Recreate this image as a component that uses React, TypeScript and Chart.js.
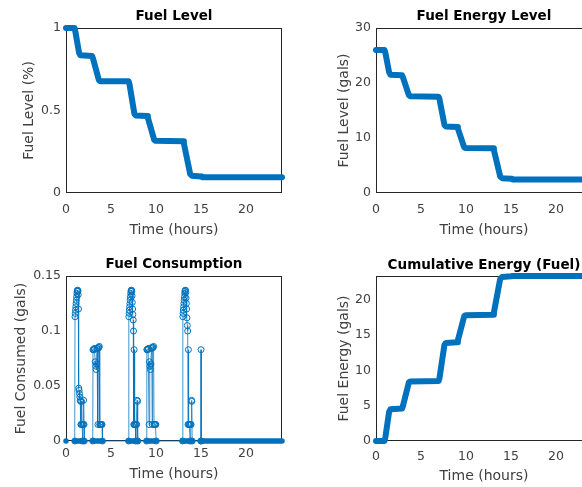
import { useEffect, useRef } from "react";
import { Chart, registerables } from "chart.js";

Chart.register(...registerables);

// ---------- data ----------
const stepTimes = [0, 0.95, 1.05, 1.45, 1.6, 2.9, 3.0, 3.65, 3.8, 6.95, 7.05, 7.6, 7.75, 9.0, 9.1, 9.8, 9.95, 13.0, 13.1, 13.8, 14.0, 15.0, 15.1, 24];
const fuelFraction = [1.0, 1.0, 0.975, 0.85, 0.835, 0.83, 0.815, 0.685, 0.678, 0.678, 0.66, 0.48, 0.47, 0.467, 0.455, 0.322, 0.316, 0.314, 0.3, 0.115, 0.105, 0.1, 0.097, 0.096];
const fuelGallons = [26.0, 26.0, 25.4, 22.0, 21.5, 21.4, 21.0, 17.8, 17.6, 17.5, 17.1, 12.4, 12.1, 12.0, 11.7, 8.3, 8.2, 8.15, 7.8, 3.0, 2.7, 2.6, 2.5, 2.45];
const cumulativeFuel = [0, 0, 0.6, 4.1, 4.5, 4.6, 5.0, 8.3, 8.45, 8.5, 8.9, 13.6, 13.9, 14.0, 14.3, 17.7, 17.85, 17.9, 18.2, 23.0, 23.25, 23.35, 23.4, 23.4];

const consTimes = [
  0.97, 1.0, 1.03, 1.06, 1.09, 1.12, 1.15, 1.18, 1.21, 1.24, 1.27, 1.3, 1.33, 1.36, 1.39, 1.42, 1.46, 1.5, 1.54, 1.58, 1.62, 1.66, 1.7, 1.74, 1.78, 1.84, 1.88, 1.92, 1.96, 2.0, 2.03,
  2.97, 3.0, 3.05, 3.1, 3.15, 3.2, 3.25, 3.3, 3.35, 3.4, 3.45, 3.5, 3.55, 3.6, 3.65, 3.7, 3.75, 3.8, 3.85, 3.9, 3.95, 4.0, 4.05,
  6.95, 6.98, 7.01, 7.04, 7.07, 7.1, 7.13, 7.16, 7.19, 7.22, 7.25, 7.28, 7.31, 7.34, 7.37, 7.4, 7.43, 7.47, 7.5, 7.53, 7.57, 7.6, 7.65, 7.7, 7.75, 7.8, 7.85, 7.9, 7.95, 7.98,
  8.95, 8.98, 9.03, 9.08, 9.13, 9.18, 9.23, 9.28, 9.33, 9.38, 9.43, 9.48, 9.53, 9.58, 9.63, 9.68, 9.73, 9.78, 9.83, 9.88, 9.93, 9.98, 10.03,
  12.95, 12.98, 13.01, 13.04, 13.07, 13.1, 13.13, 13.16, 13.19, 13.22, 13.25, 13.28, 13.31, 13.34, 13.37, 13.4, 13.44, 13.48, 13.52, 13.56, 13.6, 13.64, 13.68, 13.72, 13.76, 13.8, 13.85, 13.9, 13.95, 13.98, 14.02,
  14.97, 15.0, 15.03,
];
const consValues = [
  0, 0.113, 0.116, 0.119, 0.122, 0.125, 0.128, 0.131, 0.134, 0.136, 0.137, 0.137, 0.136, 0.133, 0.12, 0.048, 0.046, 0.043, 0.04, 0.037, 0.036, 0.015, 0.015, 0.036, 0.015, 0, 0.015, 0.015, 0.037, 0.015, 0,
  0, 0.083, 0.083, 0.083, 0.084, 0.084, 0.072, 0.068, 0.065, 0.07, 0.084, 0.084, 0.015, 0.085, 0.085, 0.086, 0.015, 0.015, 0.015, 0.015, 0.015, 0.015, 0,
  0, 0.113, 0.116, 0.119, 0.122, 0.125, 0.128, 0.131, 0.134, 0.136, 0.137, 0.137, 0.136, 0.132, 0.126, 0.12, 0.115, 0.11, 0.1, 0.015, 0.083, 0.015, 0.015, 0.015, 0, 0.015, 0.015, 0.037, 0.036, 0,
  0, 0.083, 0.083, 0.083, 0.084, 0.084, 0.015, 0.072, 0.068, 0.065, 0.07, 0.084, 0.085, 0.015, 0.085, 0.085, 0.086, 0.015, 0.015, 0.015, 0.015, 0.015, 0,
  0, 0.113, 0.116, 0.119, 0.122, 0.125, 0.128, 0.131, 0.134, 0.136, 0.137, 0.137, 0.135, 0.13, 0.125, 0.12, 0.112, 0.105, 0.1, 0.015, 0.083, 0.015, 0.015, 0.015, 0.015, 0, 0.015, 0.015, 0.037, 0.036, 0,
  0, 0.083, 0,
];
const zeroRunStart = [0, 1.8, 2.03, 4.05, 7.72, 7.98, 10.03, 13.78, 14.02, 15.03];
const zeroRunEnd = [0.97, 1.86, 2.97, 6.95, 7.78, 8.95, 12.95, 13.82, 14.97, 24];

const timeTicks = [0, 5, 10, 15, 20];
const fractionTicks = [0, 0.5, 1];
const gallonTicks = [0, 10, 20, 30];
const consTicks = [0, 0.05, 0.1, 0.15];
const cumulativeTicks = [0, 5, 10, 15, 20];

// ---------- styling ----------
const BLUE = "#0072BD";
const FONT = "DejaVu Sans";
const TEXT = "#404040";

const boxPlugin = {
  id: "matlabBox",
  beforeDatasetsDraw(chart: any) {
    const { ctx, chartArea } = chart;
    const { left, top, right, bottom } = chartArea;
    ctx.save();
    ctx.strokeStyle = "#262626";
    ctx.lineWidth = 1;
    ctx.strokeRect(left + 0.5, top + 0.5, right - left - 1, bottom - top - 1);
    ctx.restore();
  },
};

type PanelSpec = {
  left: number;
  top: number;
  width: number;
  height: number;
  areaLeft: number;
  areaRight: number;
  areaTop: number;
  areaBottom: number;
  titleCenter: number;
  yTitleCenter: number;
  xTickPad: number;
  xTitleCenter: number;
  title: string;
  yTitle: string;
  yMax: number;
  yTicks: number[];
  datasets: any[];
};

function Panel({ spec }: { spec: PanelSpec }) {
  const ref = useRef<HTMLCanvasElement | null>(null);
  useEffect(() => {
    if (!ref.current) return;
    const titleLH = 13.5 * 1.2;
    const labelLH = 14 * 1.2;
    const tickLH = 12.5 * 1.2;
    const titlePadTop = spec.titleCenter - titleLH / 2;
    const titlePadBottom = spec.areaTop - titlePadTop - titleLH;
    const xHeight = spec.height - spec.areaBottom;
    const chart = new Chart(ref.current, {
      type: "line",
      data: { datasets: spec.datasets },
      options: {
        responsive: false,
        animation: false,
        events: [],
        layout: { padding: { left: 0, top: 0, bottom: 0, right: spec.width - spec.areaRight } },
        plugins: {
          legend: { display: false },
          tooltip: { enabled: false },
          title: {
            display: true,
            text: spec.title,
            fullSize: false,
            color: "#000",
            font: { family: FONT, size: 13.5, weight: "bold", lineHeight: 1.2 },
            padding: { top: titlePadTop, bottom: titlePadBottom },
          },
        },
        scales: {
          x: {
            type: "linear",
            min: 0,
            max: 24,
            afterBuildTicks: (s: any) => {
              s.ticks = timeTicks.map((v) => ({ value: v }));
            },
            afterFit: (s: any) => {
              s.height = xHeight;
            },
            grid: { display: false, drawTicks: false, tickLength: 0 },
            border: { display: false },
            ticks: {
              autoSkip: false,
              maxRotation: 0,
              padding: spec.xTickPad - tickLH / 2,
              color: TEXT,
              font: { family: FONT, size: 12.5, lineHeight: 1.2 },
              callback: (v: any) => String(v),
            },
            title: {
              display: true,
              text: "Time (hours)",
              color: TEXT,
              font: { family: FONT, size: 14, lineHeight: 1.2 },
              padding: { top: 0, bottom: spec.height - spec.xTitleCenter - labelLH / 2 },
            },
          },
          y: {
            type: "linear",
            min: 0,
            max: spec.yMax,
            afterBuildTicks: (s: any) => {
              s.ticks = spec.yTicks.map((v) => ({ value: v }));
            },
            afterFit: (s: any) => {
              s.width = spec.areaLeft;
            },
            grid: { display: false, drawTicks: false, tickLength: 0 },
            border: { display: false },
            ticks: {
              autoSkip: false,
              padding: 5,
              color: TEXT,
              font: { family: FONT, size: 12.5, lineHeight: 1.2 },
              callback: (v: any) => String(v),
            },
            title: {
              display: true,
              text: spec.yTitle,
              color: TEXT,
              font: { family: FONT, size: 14, lineHeight: 1.2 },
              padding: { top: spec.yTitleCenter - labelLH / 2, bottom: 0 },
            },
          },
        },
      },
      plugins: [boxPlugin],
    } as any);
    return () => chart.destroy();
  }, [spec]);
  return (
    <div style={{ position: "absolute", left: spec.left, top: spec.top, width: spec.width, height: spec.height }}>
      <canvas ref={ref} width={spec.width} height={spec.height} style={{ width: spec.width, height: spec.height, display: "block" }} />
    </div>
  );
}

function thickLine(times: number[], values: number[]) {
  return {
    data: times.map((t, i) => ({ x: t, y: values[i] })),
    borderColor: BLUE,
    borderWidth: 6,
    borderJoinStyle: "round",
    borderCapStyle: "round",
    pointRadius: 0,
    tension: 0,
    clip: false,
  };
}

const zeroBandData: any[] = [];
zeroRunStart.forEach((s, i) => {
  zeroBandData.push({ x: s, y: 0 }, { x: zeroRunEnd[i], y: 0 });
  if (i < zeroRunStart.length - 1) zeroBandData.push({ x: (s + zeroRunEnd[i]) / 2, y: null });
});
// keep x order for the gap markers
zeroBandData.sort((a, b) => a.x - b.x);

const consumptionDatasets = [
  {
    data: zeroBandData,
    borderColor: BLUE,
    borderWidth: 5.5,
    borderCapStyle: "round",
    pointRadius: 0,
    spanGaps: false,
    tension: 0,
    clip: false,
  },
  {
    data: consTimes.map((t, i) => ({ x: t, y: consValues[i] })),
    borderColor: "rgba(0,114,189,0.75)",
    borderWidth: 1,
    pointRadius: 3,
    pointBorderWidth: 1,
    pointBorderColor: BLUE,
    pointBackgroundColor: "rgba(255,255,255,0)",
    pointStyle: "circle",
    tension: 0,
    clip: false,
  },
];

const specs: PanelSpec[] = [
  {
    left: 0, top: 0, width: 291, height: 243,
    areaLeft: 66, areaRight: 282, areaTop: 28, areaBottom: 193,
    titleCenter: 16.5, yTitleCenter: 29, xTickPad: 16.5, xTitleCenter: 230,
    title: "Fuel Level", yTitle: "Fuel Level (%)", yMax: 1, yTicks: fractionTicks,
    datasets: [thickLine(stepTimes, fuelFraction)],
  },
  {
    left: 291, top: 0, width: 301, height: 243,
    areaLeft: 85, areaRight: 301, areaTop: 28, areaBottom: 193,
    titleCenter: 16.8, yTitleCenter: 53.3, xTickPad: 16.8, xTitleCenter: 230,
    title: "Fuel Energy Level", yTitle: "Fuel Level (gals)", yMax: 30, yTicks: gallonTicks,
    datasets: [thickLine(stepTimes, fuelGallons)],
  },
  {
    left: 0, top: 243, width: 291, height: 244,
    areaLeft: 66, areaRight: 282, areaTop: 33, areaBottom: 198,
    titleCenter: 21.7, yTitleCenter: 21.7, xTickPad: 13, xTitleCenter: 231.7,
    title: "Fuel Consumption", yTitle: "Fuel Consumed (gals)", yMax: 0.15, yTicks: consTicks,
    datasets: consumptionDatasets,
  },
  {
    left: 291, top: 243, width: 301, height: 244,
    areaLeft: 85, areaRight: 301, areaTop: 33, areaBottom: 198,
    titleCenter: 22.3, yTitleCenter: 53.3, xTickPad: 15.5, xTitleCenter: 233.3,
    title: "Cumulative Energy (Fuel)", yTitle: "Fuel Energy (gals)", yMax: 23.4, yTicks: cumulativeTicks,
    datasets: [thickLine(stepTimes, cumulativeFuel)],
  },
];

export default function App() {
  return (
    <div style={{ position: "fixed", left: 0, top: 0, width: 582, height: 487, overflow: "hidden", background: "#fff" }}>
      {specs.map((s, i) => (
        <Panel key={i} spec={s} />
      ))}
    </div>
  );
}
